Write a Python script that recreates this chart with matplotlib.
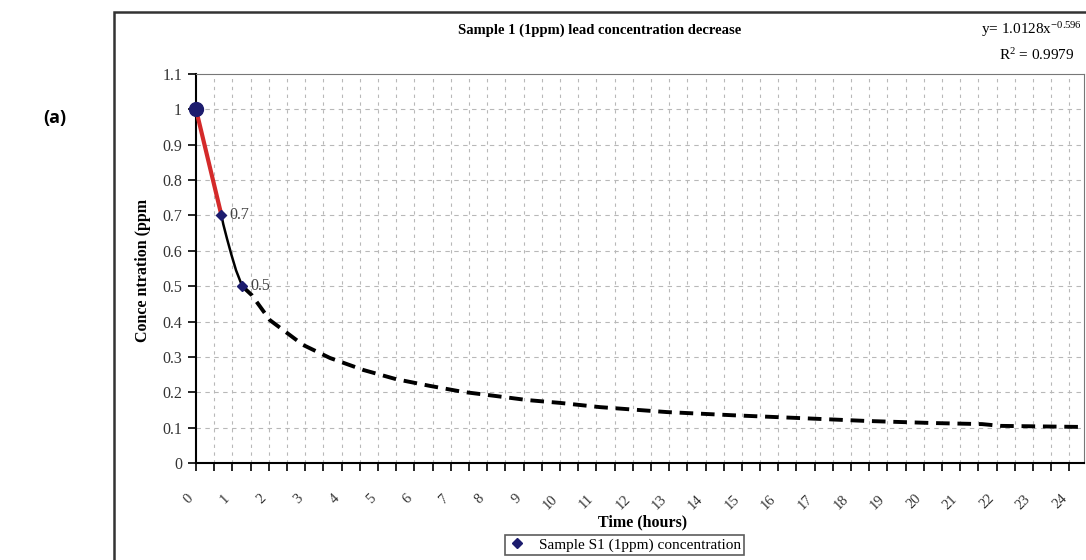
import matplotlib.pyplot as plt
from matplotlib.patches import Rectangle
from matplotlib.lines import Line2D

# measured sample points
time_pts = [0, 0.7, 1.27]
conc_pts = [1.0, 0.7, 0.5]
point_labels = ["", "0.7", "0.5"]

# initial drop (red) and fitted curve between measurements
red_x = [0, 0.7]
red_y = [1.0, 0.7]
fit_x = [0.7, 0.75, 0.85, 0.97, 1.1, 1.27]
fit_y = [0.7, 0.675, 0.635, 0.59, 0.545, 0.5]

# extrapolated trend (dashed)
trend_x = [1.27, 1.53, 2.03, 2.94, 3.68, 4.6, 5.5, 6.43, 7.34, 8.27, 9.1, 10.0,
           11.1, 12.94, 14.75, 16.6, 18.4, 20.25, 21.6, 22.1, 24.3]
trend_y = [0.5, 0.475, 0.404, 0.334, 0.297, 0.263, 0.237, 0.218, 0.201, 0.189, 0.178, 0.17,
           0.158, 0.144, 0.135, 0.127, 0.119, 0.113, 0.110, 0.105, 0.102]

hour_labels = [str(h) for h in range(25)]
y_ticks = [0, 0.1, 0.2, 0.3, 0.4, 0.5, 0.6, 0.7, 0.8, 0.9, 1, 1.1]
y_ticklabels = ["0", "0.1", "0.2", "0.3", "0.4", "0.5", "0.6", "0.7", "0.8", "0.9", "1", "1.1"]

serif = "Liberation Serif"
plt.rcParams["mathtext.fontset"] = "custom"
plt.rcParams["mathtext.rm"] = serif
plt.rcParams["mathtext.it"] = serif

fig = plt.figure(figsize=(10.86, 5.6), dpi=100)
ax = fig.add_axes([196 / 1086, 1 - 463 / 560, (1084 - 196) / 1086, (463 - 74) / 560])

# grid
for h in [i * 0.5 for i in range(1, 49)]:
    ax.axvline(h, color="#b8b8b8", lw=0.8, ls=(0, (3, 4)), zorder=0)
for yv in y_ticks[1:-1]:
    ax.axhline(yv, color="#b8b8b8", lw=0.8, ls=(0, (4, 4)), zorder=0)

ax.plot(trend_x, trend_y, color="black", lw=2.8, ls=(0, (3.5, 2)), zorder=2)
ax.plot(fit_x, fit_y, color="black", lw=1.8, zorder=3)
ax.plot(red_x, red_y, color="#d42a2a", lw=3, zorder=3)
ax.plot(time_pts, conc_pts, ls="none", marker="D", ms=5.5, color="#1c1c6e", zorder=4, clip_on=False)
ax.plot([0], [1.0], ls="none", marker="o", ms=10, color="#1c1c6e", zorder=4, clip_on=False)

for x, y, lab in zip(time_pts, conc_pts, point_labels):
    if lab:
        ax.annotate(lab, (x, y), xytext=(6, 0), textcoords="offset points", va="center",
                    family=serif, fontsize=11.5, color="#444444")

ax.set_xlim(0, 24.4)
ax.set_ylim(0, 1.1)
ax.set_xticks([i * 0.5 for i in range(49)], minor=True)
ax.set_xticks(range(25))
ax.set_xticklabels(hour_labels, rotation=45, ha="right", family=serif, fontsize=10.5, color="#333333")
ax.set_yticks(y_ticks)
ax.set_yticklabels(y_ticklabels, family=serif, fontsize=11.5, color="#333333")
ax.tick_params(axis="x", which="both", length=6, width=1.2, pad=15)
ax.tick_params(axis="y", length=6, width=1.2, pad=4)

ax.spines["left"].set_linewidth(1.5)
ax.spines["bottom"].set_linewidth(1.5)
ax.spines["top"].set_color("#777777")
ax.spines["right"].set_color("#777777")

fig.text(643 / 1086, 1 - 522 / 560, "Time (hours)", ha="center", va="center",
         family=serif, fontweight="bold", fontsize=11.5)
fig.text(143 / 1086, 1 - 270 / 560, "Conce ntration (ppm", ha="center", va="center", rotation=90,
         family=serif, fontweight="bold", fontsize=11.5)
fig.text(600 / 1086, 1 - 30 / 560, "Sample 1 (1ppm) lead concentration decrease", ha="center", va="center",
         family=serif, fontweight="bold", fontsize=10.5)
fig.text(1082 / 1086, 1 - 30 / 560, r"y= 1.0128x$^{\mathrm{-0.596}}$", ha="right", va="center",
         family=serif, fontsize=11)
fig.text(1075 / 1086, 1 - 55 / 560, r"R$^{\mathrm{2}}$ = 0.9979", ha="right", va="center",
         family=serif, fontsize=11)
fig.text(55 / 1086, 1 - 118 / 560, "(a)", ha="center", va="center",
         family="Open Sans", fontweight="bold", fontsize=13)

# outer chart frame (runs off the image on the right and bottom)
frame = Rectangle((114 / 1086, -0.1), 1.0, 1 - 12 / 560 + 0.1, transform=fig.transFigure,
                  fill=False, lw=1.8, edgecolor="#333333", clip_on=False)
fig.patches.append(frame)

handle = Line2D([], [], ls="none", marker="D", ms=5, color="#1c1c6e")
leg = fig.legend([handle], ["Sample S1 (1ppm) concentration"], loc="upper left",
                 bbox_to_anchor=(505 / 1086, 1 - 535 / 560), frameon=True, fancybox=False,
                 prop={"family": serif, "size": 11}, handlelength=1.2, borderpad=0.2,
                 borderaxespad=0)
leg.get_frame().set_edgecolor("#333333")
leg.get_frame().set_linewidth(1.2)

fig.savefig("out.png", dpi=100)
